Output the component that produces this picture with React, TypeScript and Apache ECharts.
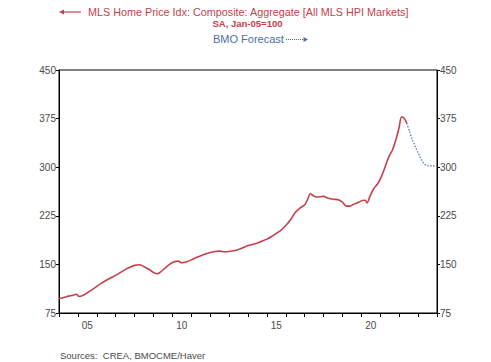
import React, { useEffect, useRef } from "react";
import * as echarts from "echarts";

const actualYears = [
  2004.0, 2004.25, 2004.5, 2004.75, 2004.92, 2005.05, 2005.25, 2005.5, 2005.75,
  2006.0, 2006.25, 2006.5, 2006.75, 2007.0, 2007.25, 2007.5, 2007.75, 2008.0,
  2008.25, 2008.5, 2008.75, 2009.0, 2009.2, 2009.4, 2009.6, 2009.85, 2010.1,
  2010.3, 2010.5, 2010.75, 2011.0, 2011.25, 2011.5, 2011.75, 2012.0, 2012.25,
  2012.5, 2012.75, 2013.0, 2013.25, 2013.5, 2013.75, 2014.0, 2014.25, 2014.5,
  2014.75, 2015.0, 2015.25, 2015.5, 2015.75, 2016.0, 2016.25, 2016.5, 2016.75,
  2017.0, 2017.15, 2017.3, 2017.45, 2017.65, 2018.0, 2018.25, 2018.5, 2018.75,
  2019.0, 2019.2, 2019.4, 2019.6, 2019.85, 2020.05, 2020.2, 2020.3, 2020.45,
  2020.65, 2020.85, 2021.05, 2021.25, 2021.45, 2021.65, 2021.85, 2022.0,
  2022.12, 2022.25, 2022.4,
];
const actualValues = [
  97.5, 99, 101, 102.5, 104, 100.5, 102, 106, 111,
  116, 121, 125.5, 129.5, 133, 137.5, 142, 145.5, 148.5,
  149.5, 146.5, 142.5, 137.5, 135.5, 139, 144, 150, 154,
  155, 152.5, 154, 157, 160.5, 163.5, 166, 168.5, 170,
  170.5, 169.5, 170, 171, 173, 176, 179, 181, 183,
  186, 189, 193, 198, 203, 210, 219, 230, 237,
  242, 250, 259, 256, 254, 255, 252, 250.5, 250,
  246, 240, 240, 243, 246, 248.5, 249, 245, 255,
  267, 274, 285, 300, 316, 327, 345, 362,
  377.5, 376, 368,
];
const forecastYears = [2022.4, 2022.55, 2022.7, 2022.85, 2023.0, 2023.15, 2023.3, 2023.45, 2023.6, 2023.8, 2024.0];
const forecastValues = [368, 355, 342, 332, 322, 313, 306, 302.5, 302, 302, 302];
const yTicks = [75, 150, 225, 300, 375, 450];
const xLabelYears = [2005, 2010, 2015, 2020];

const FONT = "'Liberation Sans', Arial, sans-serif";
const RED = "#c4414c";
const BLUE = "#4a6ea8";
const LABEL = "#4a4a4a";

export default function App() {
  const ref = useRef<HTMLDivElement>(null);
  useEffect(() => {
    const chart = echarts.init(ref.current!, null, { renderer: "svg" });
    const yAxisCommon = {
      type: "value",
      min: yTicks[0],
      max: yTicks[yTicks.length - 1],
      interval: 75,
      splitLine: { show: false },
      axisLine: { show: true, lineStyle: { color: "#000", width: 1 } },
      axisTick: { show: true, length: 3, lineStyle: { color: "#000" } },
      axisLabel: { color: LABEL, fontSize: 10, fontFamily: FONT, margin: 3 },
    };
    chart.setOption({
      animation: false,
      grid: {
        left: 59,
        right: 54,
        top: 70,
        bottom: 49,
        show: true,
        borderColor: "#000",
        borderWidth: 1,
        backgroundColor: "#fff",
      },
      xAxis: [
        {
          type: "value",
          min: 2004,
          max: 2024,
          interval: 1,
          position: "bottom",
          splitLine: { show: false },
          axisLine: { show: true, onZero: false, lineStyle: { color: "#000", width: 1 } },
          axisTick: { show: true, length: 4, lineStyle: { color: "#000" } },
          axisLabel: { show: false },
        },
        {
          type: "value",
          min: 2004,
          max: 2024,
          interval: 0.5,
          position: "bottom",
          splitLine: { show: false },
          axisLine: { show: false },
          axisTick: { show: false },
          axisLabel: {
            show: true,
            color: LABEL,
            fontSize: 10,
            fontFamily: FONT,
            margin: 7,
            formatter: (v: number) => {
              const y = Math.round(v - 0.5);
              if (Math.abs(v - 0.5 - y) < 1e-6 && xLabelYears.includes(y)) {
                return String(y % 100).padStart(2, "0");
              }
              return "";
            },
          },
        },
      ],
      yAxis: [
        { ...yAxisCommon, position: "left" },
        { ...yAxisCommon, position: "right" },
      ],
      series: [
        {
          type: "line",
          xAxisIndex: 0,
          yAxisIndex: 0,
          data: actualYears.map((x, i) => [x, actualValues[i]]),
          showSymbol: false,
          smooth: 0.3,
          lineStyle: { color: RED, width: 1.6 },
          z: 3,
        },
        {
          type: "line",
          xAxisIndex: 0,
          yAxisIndex: 0,
          data: forecastYears.map((x, i) => [x, forecastValues[i]]),
          showSymbol: false,
          smooth: 0.3,
          lineStyle: { color: BLUE, width: 1.2, type: [1.5, 1.5] },
          z: 2,
        },
      ],
      graphic: [
        {
          type: "line",
          shape: { x1: 61, y1: 12, x2: 81, y2: 12 },
          style: { stroke: RED, lineWidth: 1.2 },
        },
        {
          type: "polygon",
          shape: { points: [[59, 12], [64, 9.5], [64, 14.5]] },
          style: { fill: RED },
        },
        {
          type: "text",
          x: 88,
          y: 12,
          style: {
            text: "MLS Home Price Idx: Composite: Aggregate [All MLS HPI Markets]",
            fill: RED,
            font: `10.8px ${FONT}`,
            textVerticalAlign: "middle",
          },
        },
        {
          type: "text",
          x: 247.5,
          y: 23.5,
          style: {
            text: "SA, Jan-05=100",
            fill: RED,
            font: `bold 9.5px ${FONT}`,
            textAlign: "center",
            textVerticalAlign: "middle",
          },
        },
        {
          type: "text",
          x: 213,
          y: 39,
          style: {
            text: "BMO Forecast",
            fill: BLUE,
            font: `11px ${FONT}`,
            textVerticalAlign: "middle",
          },
        },
        {
          type: "line",
          shape: { x1: 286, y1: 39.5, x2: 304, y2: 39.5 },
          style: { stroke: BLUE, lineWidth: 1, lineDash: [1, 1] },
        },
        {
          type: "polygon",
          shape: { points: [[308, 39.5], [303.5, 37], [303.5, 42]] },
          style: { fill: BLUE },
        },
        {
          type: "text",
          x: 60,
          y: 355,
          style: {
            text: "Sources:  CREA, BMOCME/Haver",
            fill: LABEL,
            font: `9.5px ${FONT}`,
            textVerticalAlign: "middle",
          },
        },
      ],
    });
    return () => chart.dispose();
  }, []);
  return (
    <div
      ref={ref}
      style={{ position: "absolute", left: 0, top: 0, width: 491, height: 362 }}
    />
  );
}
